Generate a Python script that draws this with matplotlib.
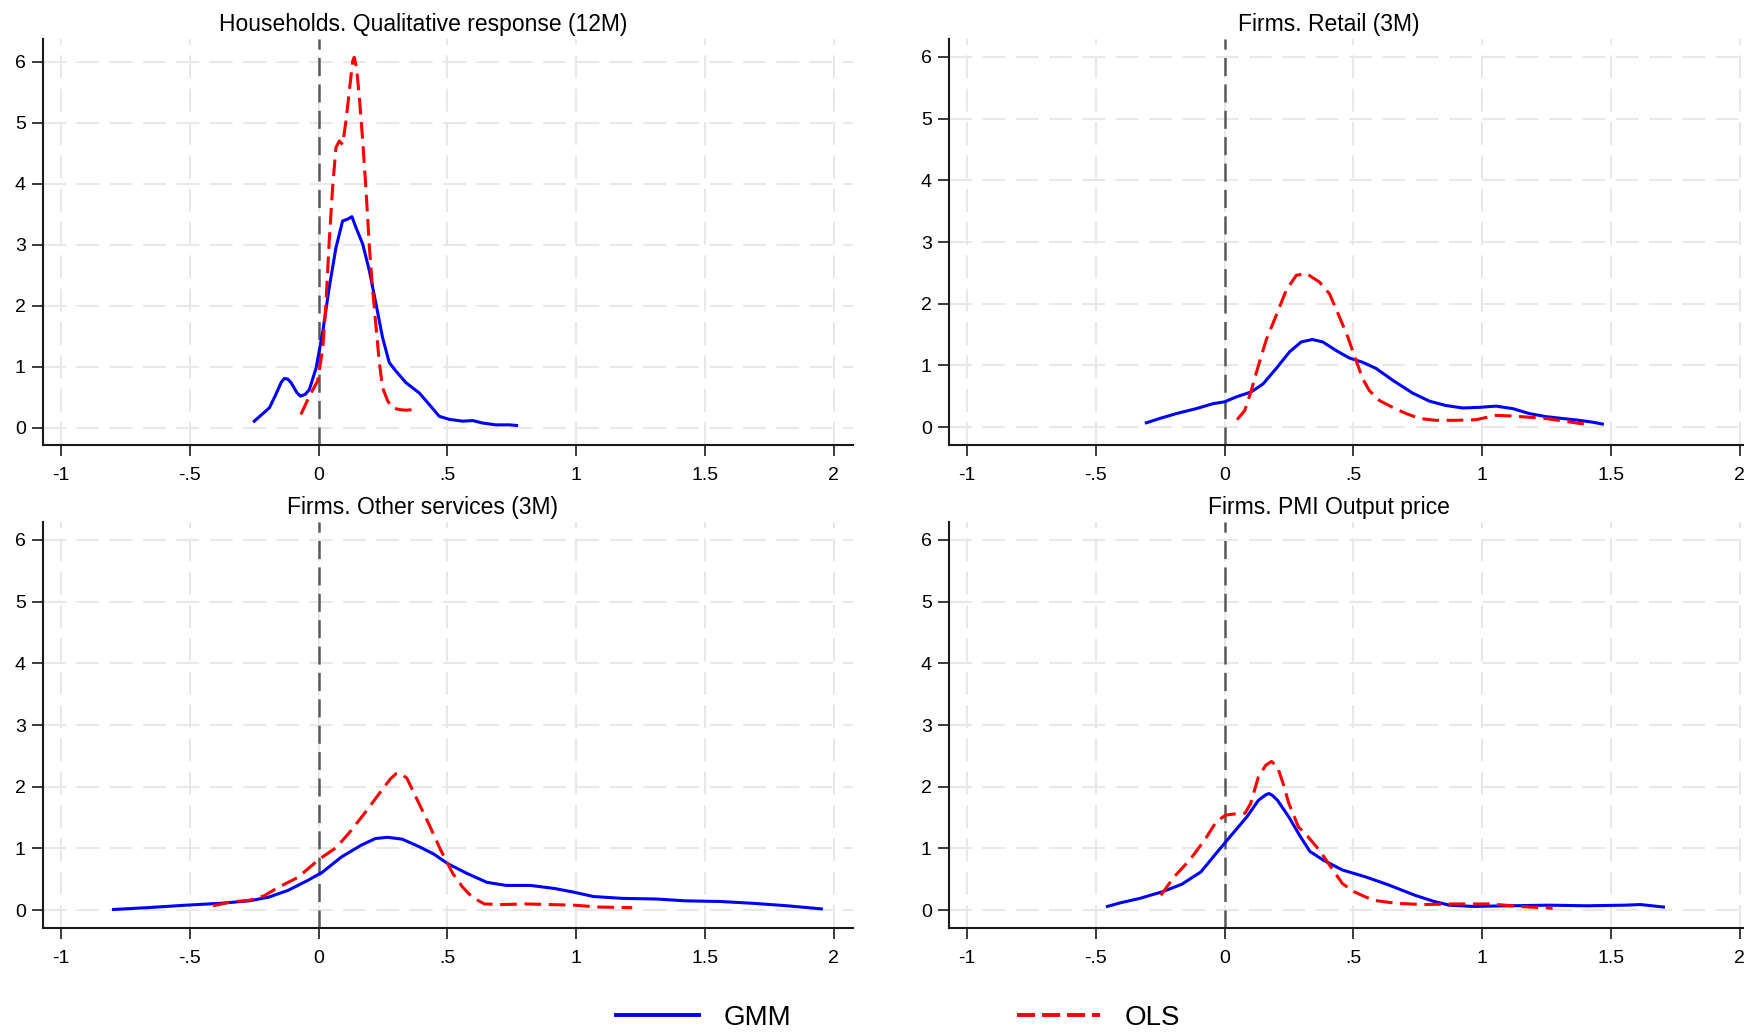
import matplotlib
matplotlib.use('Agg')
import matplotlib.pyplot as plt
import matplotlib as mpl
from matplotlib.lines import Line2D

mpl.rcParams['font.family'] = ['Liberation Sans', 'DejaVu Sans']
mpl.rcParams['lines.scale_dashes'] = False

# ---- data (kernel density estimates) ----
# Households. Qualitative response (12M)
hh_gmm_x = [-0.250, -0.191, -0.166, -0.145, -0.133, -0.120, -0.107, -0.085, -0.071, -0.052,
            -0.036, -0.010, 0.016, 0.041, 0.067, 0.093, 0.113, 0.129, 0.145, 0.171,
            0.197, 0.223, 0.248, 0.274, 0.300, 0.339, 0.391, 0.430, 0.468, 0.507,
            0.559, 0.598, 0.636, 0.688, 0.740, 0.768]
hh_gmm_y = [0.11, 0.33, 0.55, 0.75, 0.81, 0.80, 0.74, 0.58, 0.52, 0.55,
            0.63, 0.98, 1.58, 2.30, 2.95, 3.39, 3.42, 3.46, 3.28, 3.01,
            2.57, 2.02, 1.48, 1.07, 0.93, 0.74, 0.57, 0.38, 0.19, 0.14,
            0.11, 0.12, 0.08, 0.05, 0.05, 0.04]
hh_ols_x = [-0.069, -0.036, -0.004, 0.016, 0.028, 0.041, 0.054, 0.067, 0.080, 0.093,
            0.106, 0.119, 0.132, 0.138, 0.147, 0.158, 0.171, 0.184, 0.197, 0.210,
            0.223, 0.235, 0.248, 0.268, 0.287, 0.313, 0.339, 0.365, 0.388]
hh_ols_y = [0.22, 0.52, 0.77, 1.31, 2.02, 3.06, 3.93, 4.59, 4.70, 4.64,
            5.03, 5.52, 6.01, 6.07, 5.90, 5.41, 4.70, 3.88, 2.95, 2.24,
            1.64, 1.09, 0.66, 0.44, 0.33, 0.30, 0.29, 0.30, 0.31]

# Firms. Retail (3M)
rt_gmm_x = [-0.304, -0.252, -0.187, -0.110, -0.045, 0.0, 0.045, 0.103, 0.149, 0.200,
            0.252, 0.297, 0.340, 0.381, 0.433, 0.484, 0.536, 0.588, 0.652, 0.730,
            0.795, 0.859, 0.924, 0.988, 1.053, 1.118, 1.182, 1.247, 1.311, 1.376, 1.428, 1.466]
rt_gmm_y = [0.07, 0.14, 0.22, 0.30, 0.38, 0.41, 0.49, 0.57, 0.70, 0.95,
            1.22, 1.38, 1.42, 1.38, 1.24, 1.12, 1.05, 0.95, 0.76, 0.55,
            0.42, 0.35, 0.31, 0.32, 0.34, 0.30, 0.22, 0.17, 0.14, 0.11, 0.08, 0.05]
rt_ols_x = [0.048, 0.078, 0.103, 0.129, 0.161, 0.200, 0.239, 0.278, 0.317, 0.368,
            0.407, 0.446, 0.478, 0.510, 0.536, 0.562, 0.601, 0.652, 0.704, 0.756,
            0.820, 0.898, 0.975, 1.053, 1.118, 1.182, 1.247, 1.311, 1.376, 1.421]
rt_ols_y = [0.12, 0.27, 0.59, 0.97, 1.41, 1.81, 2.22, 2.46, 2.49, 2.35,
            2.16, 1.78, 1.46, 1.08, 0.78, 0.59, 0.43, 0.32, 0.22, 0.14,
            0.11, 0.11, 0.12, 0.19, 0.18, 0.16, 0.14, 0.10, 0.06, 0.04]

# Firms. Other services (3M)
os_gmm_x = [-0.796, -0.664, -0.514, -0.382, -0.269, -0.194, -0.119, -0.043, 0.013, 0.088,
            0.164, 0.220, 0.267, 0.324, 0.389, 0.446, 0.502, 0.578, 0.653, 0.728,
            0.822, 0.916, 0.991, 1.067, 1.179, 1.311, 1.424, 1.556, 1.687, 1.819, 1.951]
os_gmm_y = [0.01, 0.04, 0.08, 0.11, 0.15, 0.21, 0.32, 0.48, 0.61, 0.86,
            1.05, 1.16, 1.18, 1.15, 1.03, 0.91, 0.75, 0.59, 0.45, 0.40,
            0.40, 0.35, 0.29, 0.22, 0.19, 0.18, 0.15, 0.14, 0.11, 0.07, 0.02]
os_ols_x = [-0.410, -0.344, -0.269, -0.213, -0.156, -0.081, 0.004, 0.070, 0.126, 0.182,
            0.230, 0.277, 0.300, 0.314, 0.342, 0.380, 0.427, 0.474, 0.521, 0.559,
            0.596, 0.643, 0.709, 0.803, 0.897, 0.991, 1.085, 1.217]
os_ols_y = [0.07, 0.13, 0.16, 0.23, 0.37, 0.53, 0.83, 1.02, 1.29, 1.59,
            1.86, 2.12, 2.21, 2.22, 2.14, 1.81, 1.40, 0.97, 0.59, 0.37,
            0.21, 0.10, 0.09, 0.10, 0.09, 0.08, 0.05, 0.04]

# Firms. PMI Output price
pmi_gmm_x = [-0.455, -0.403, -0.329, -0.240, -0.166, -0.092, -0.033, 0.027, 0.086, 0.131,
             0.160, 0.172, 0.185, 0.205, 0.249, 0.294, 0.331, 0.383, 0.457, 0.546,
             0.635, 0.739, 0.813, 0.872, 0.961, 1.109, 1.258, 1.406, 1.554, 1.614, 1.703]
pmi_gmm_y = [0.06, 0.12, 0.19, 0.30, 0.42, 0.62, 0.92, 1.22, 1.51, 1.78,
             1.87, 1.89, 1.86, 1.78, 1.51, 1.19, 0.95, 0.81, 0.65, 0.54,
             0.41, 0.24, 0.14, 0.08, 0.06, 0.07, 0.08, 0.07, 0.08, 0.09, 0.05]
pmi_ols_x = [-0.248, -0.196, -0.136, -0.077, -0.033, 0.004, 0.042, 0.079, 0.101, 0.131,
             0.160, 0.182, 0.205, 0.227, 0.249, 0.286, 0.323, 0.368, 0.412, 0.457,
             0.501, 0.575, 0.665, 0.768, 0.887, 1.035, 1.139, 1.273]
pmi_ols_y = [0.24, 0.54, 0.81, 1.14, 1.43, 1.54, 1.56, 1.57, 1.73, 2.16,
             2.35, 2.41, 2.32, 2.05, 1.73, 1.35, 1.19, 0.97, 0.70, 0.43,
             0.30, 0.16, 0.11, 0.09, 0.10, 0.10, 0.06, 0.03]

titles = ['Households. Qualitative response (12M)', 'Firms. Retail (3M)',
          'Firms. Other services (3M)', 'Firms. PMI Output price']
xticks = [-1, -0.5, 0, 0.5, 1, 1.5, 2]
xtick_labels = ['-1', '-.5', '0', '.5', '1', '1.5', '2']
yticks = [0, 1, 2, 3, 4, 5, 6]
series_names = ['GMM', 'OLS']

panels = [
    (hh_gmm_x, hh_gmm_y, hh_ols_x, hh_ols_y),
    (rt_gmm_x, rt_gmm_y, rt_ols_x, rt_ols_y),
    (os_gmm_x, os_gmm_y, os_ols_x, os_ols_y),
    (pmi_gmm_x, pmi_gmm_y, pmi_ols_x, pmi_ols_y),
]

# ---- layout (pixels of a 1744x1032 canvas) ----
W, H = 1744, 1032
fig = plt.figure(figsize=(W / 100, H / 100), dpi=100)

ax_w, ax_h = 810, 406
lefts = [43, 949]
tops = [39, 522]
ylims = [(-0.28, 6.37), (-0.29, 6.29), (-0.29, 6.29), (-0.29, 6.29)]

blue = '#0000FF'
red = '#FF0000'
grid_col = '#E8E8E8'
spine_col = '#1a1a1a'
red_dash = (0, (12, 5.5))

for i, (gx, gy, ox, oy) in enumerate(panels):
    r, c = divmod(i, 2)
    ax = fig.add_axes([lefts[c] / W, 1 - (tops[r] + ax_h) / H, ax_w / W, ax_h / H])
    ax.set_xlim(-1.07, 2.074)
    ax.set_ylim(*ylims[i])

    ax.set_xticks(xticks, xtick_labels)
    ax.set_yticks(yticks)
    ax.grid(True, color=grid_col, linewidth=1.5, linestyle=(0, (16.5, 7.5)))
    ax.set_axisbelow(True)

    ax.axvline(0, color='#5a5a5a', linewidth=1.8, linestyle=(0, (13, 6)), zorder=1.5)

    ax.plot(gx, gy, color=blue, linewidth=2.2, solid_joinstyle='round', zorder=3)
    ax.plot(ox, oy, color=red, linewidth=2.2, linestyle=red_dash, zorder=4)

    for side in ['top', 'right']:
        ax.spines[side].set_visible(False)
    for side in ['left', 'bottom']:
        ax.spines[side].set_color(spine_col)
        ax.spines[side].set_linewidth(1.5)
    ax.tick_params(axis='both', direction='out', length=8, width=1.2,
                   color=spine_col, labelsize=14, labelcolor='black')
    ax.tick_params(axis='x', pad=8)
    ax.tick_params(axis='y', pad=4.5)

    ax.set_title(titles[i], fontsize=16.5, pad=6, x=0.469)

# ---- legend ----
handles = [Line2D([], [], color=blue, linewidth=2.8),
           Line2D([], [], color=red, linewidth=2.8, linestyle=(0, (13, 5)))]
fig.legend(handles, series_names, loc='center', bbox_to_anchor=(0.515, 0.0135),
           ncol=2, frameon=False, fontsize=20, handlelength=3.0,
           handletextpad=0.9, columnspacing=8.1, borderaxespad=0)

fig.savefig('out.png', dpi=100)
